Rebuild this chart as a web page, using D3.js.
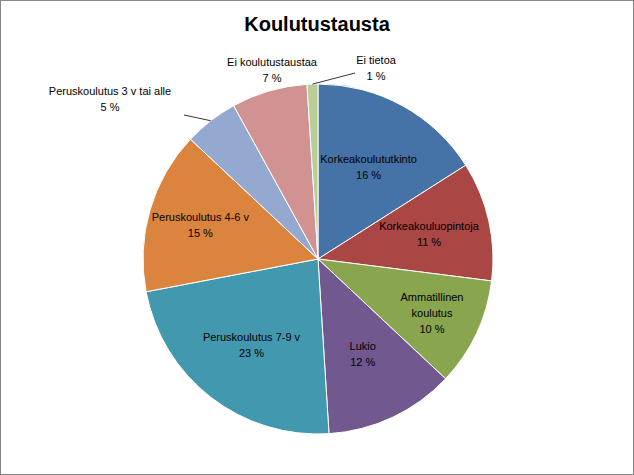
<!DOCTYPE html>
<html><head><meta charset="utf-8">
<script src="https://cdn.jsdelivr.net/npm/d3@7"></script>
<style>body{margin:0;background:#fff}svg{display:block}</style>
</head><body><svg id="c" width="634" height="475"></svg>
<script>
const categories = ["Korkeakoulututkinto", "Korkeakouluopintoja", "Ammatillinen koulutus", "Lukio",
  "Peruskoulutus 7-9 v", "Peruskoulutus 4-6 v", "Peruskoulutus 3 v tai alle", "Ei koulutustaustaa", "Ei tietoa"]
const values = [16, 11, 10, 12, 23, 15, 5, 7, 1]
const colors = ["#4572A7", "#AA4643", "#89A54E", "#71588F", "#4198AF", "#DB843D", "#93A9CF", "#D19392", "#B9CD96"]

// label lines (split text), inside labels placed at centroid scale, outside ones by hand
const labelLines = [["Korkeakoulututkinto"], ["Korkeakouluopintoja"], ["Ammatillinen", "koulutus"], ["Lukio"],
  ["Peruskoulutus 7-9 v"], ["Peruskoulutus 4-6 v"], ["Peruskoulutus 3 v tai alle"], ["Ei koulutustaustaa"], ["Ei tietoa"]]
const outside = {6: [110, 91], 7: [272, 62], 8: [376, 60]}
const labelR = [0.6, 0.65, 0.72, 0.6, 0.62, 0.7, 0, 0, 0]

const svg = d3.select("#c")
svg.append("rect").attr("x", 0.5).attr("y", 0.5).attr("width", 633).attr("height", 474)
  .attr("fill", "#fff").attr("stroke", "#868686")
svg.append("text").attr("x", 317).attr("y", 31).attr("text-anchor", "middle")
  .attr("font-family", "Liberation Sans, Arial").attr("font-weight", "bold").attr("font-size", 20)
  .text("Koulutustausta")

const cx = 318, cy = 259, r = 175
const g = svg.append("g").attr("transform", `translate(${cx},${cy})`)
const pie = d3.pie().sort(null).value(d => d)
const arcs = pie(values)
const arc = d3.arc().innerRadius(0).outerRadius(r)

g.selectAll("path").data(arcs).join("path")
  .attr("d", arc).attr("fill", (d, i) => colors[i])
  .attr("stroke", "#fff").attr("stroke-width", 1)

// leader lines for small slices
const leaders = {6: [-134, -144], 8: [37, -186]}
Object.entries(leaders).forEach(([i, p]) => {
  const a = (arcs[i].startAngle + arcs[i].endAngle) / 2
  const e = [Math.sin(a) * r, -Math.cos(a) * r]
  g.append("line").attr("x1", e[0]).attr("y1", e[1]).attr("x2", p[0]).attr("y2", p[1])
    .attr("stroke", "#000").attr("stroke-width", 0.8)
})

arcs.forEach((d, i) => {
  let x, y
  if (outside[i]) { [x, y] = outside[i] }
  else {
    const a = (d.startAngle + d.endAngle) / 2
    x = cx + Math.sin(a) * r * labelR[i]
    y = cy - Math.cos(a) * r * labelR[i] - 8 * labelLines[i].length
  }
  const t = svg.append("text").attr("text-anchor", "middle")
    .attr("font-family", "Liberation Sans, Arial").attr("font-size", 11).attr("fill", "#000")
  labelLines[i].concat([values[i] + " %"]).forEach((s, k) => {
    t.append("tspan").attr("x", x).attr("y", y + 4 + k * 16).text(s)
  })
})
</script></body></html>
